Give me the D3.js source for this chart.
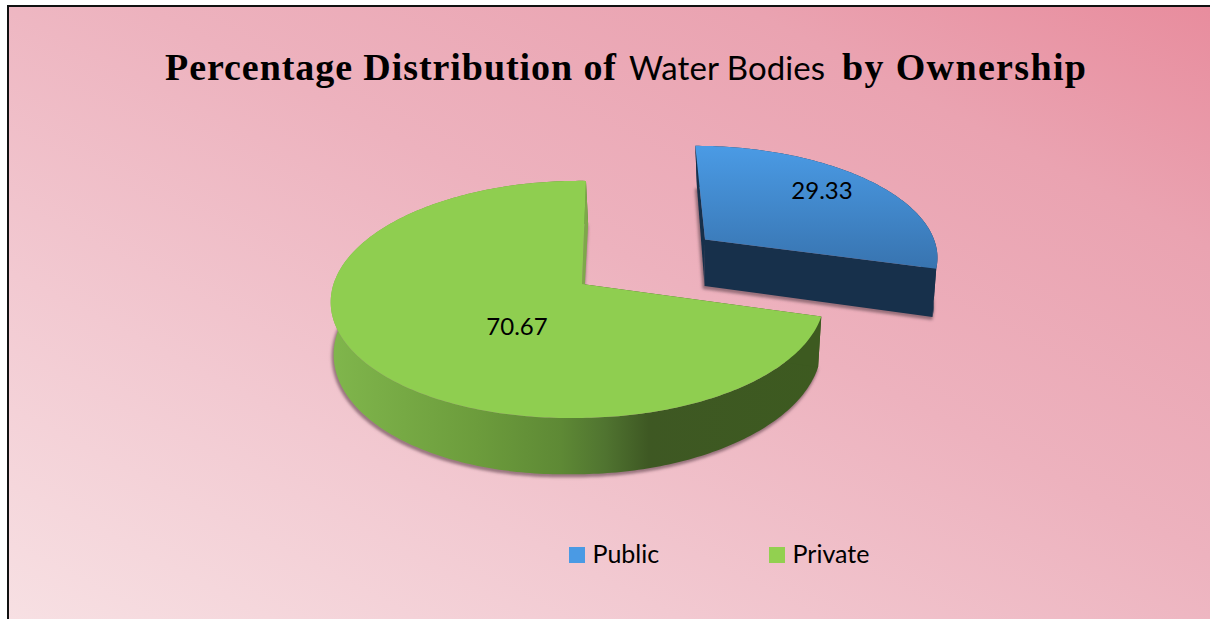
<!DOCTYPE html>
<html><head><meta charset="utf-8">
<script src="https://cdn.jsdelivr.net/npm/d3@7"></script>
<style>html,body{margin:0;padding:0;background:#fff;overflow:hidden}svg{display:block}</style>
</head><body><svg id="c" width="1210" height="619"></svg>
<script>
const categories = ["Public", "Private"];
const shares = [29.33, 70.67];
const titleParts = ["Percentage Distribution of", "Water Bodies", "by Ownership"];

// layout
const W = 1210, H = 619;
const explode = [0.665, 0];
const labelAt = [[822, 199], [517, 335]];
const cx = 582, cy = 284;
const A = 241, B = 116.5, C = -4.5, K = 0.13, M = -0.03, DEPTH = 49;

const svg = d3.select("#c");
const defs = svg.append("defs");
function lin(id, attrs, stops) {
  const g = defs.append("linearGradient").attr("id", id).attr("gradientUnits", "userSpaceOnUse");
  Object.entries(attrs).forEach(([k, v]) => g.attr(k, v));
  stops.forEach(([o, c]) => g.append("stop").attr("offset", o).attr("stop-color", c));
}
lin("bg", {x1: 358, y1: 799, x2: 862, y2: -179},
  [[0, "#f7e0e3"], [0.28, "#f2c9d1"], [0.55, "#edb2be"], [0.8, "#eaa3b1"], [1, "#e88c9d"]]);
lin("blueTop", {x1: 0, y1: 148, x2: 0, y2: 268}, [[0, "#4a9ae4"], [1, "#3874b0"]]);
lin("blueSide", {x1: 700, y1: 0, x2: 940, y2: 0}, [[0, "#17304b"], [1, "#183350"]]);
lin("greenSide", {x1: 331, y1: 0, x2: 820, y2: 0},
  [[0, "#80b64c"], [0.3, "#6c9c3c"], [0.47, "#5e8935"], [0.56, "#507430"], [0.65, "#3e5823"], [1, "#3d5a20"]]);
lin("legendBlue", {x1: 0, y1: 547, x2: 0, y2: 563}, [[0, "#4a9ae4"], [1, "#3874b0"]]);
const blur = defs.append("filter").attr("id", "soft").attr("x", "-10%").attr("y", "-10%").attr("width", "120%").attr("height", "120%");
blur.append("feGaussianBlur").attr("stdDeviation", 1.6);

// background + frame
svg.append("rect").attr("x", 8).attr("y", 6).attr("width", W - 8).attr("height", H - 6).attr("fill", "url(#bg)");
svg.append("path").attr("d", `M8,${H}V6H${W}`).attr("fill", "none").attr("stroke", "#111").attr("stroke-width", 2);

// projection: plan coordinates (u right, v towards viewer) to screen
function project(u, v, low) {
  const w = 1 - K * v - M * Math.min(u, 0);
  let X = cx + (A * u + C * v) / w, Y = cy + (B * v) / w;
  if (low) { X = X + (600 - X) * 0.012 - v * 2; Y += DEPTH / w; }
  return [X, Y];
}
const pie = d3.pie().sort(null).startAngle(0).endAngle(2 * Math.PI);
const arcs = pie(shares);
const line = d3.line();
function plan(d, i, a, r) {
  const mid = (d.startAngle + d.endAngle) / 2, e = explode[i];
  return [e * Math.sin(mid) + r * Math.sin(a), -e * Math.cos(mid) - r * Math.cos(a)];
}
function rim(d, i, a0, a1, low) {
  const n = Math.max(2, Math.ceil(Math.abs(a1 - a0) * 60));
  return d3.range(n + 1).map(t => {
    const p = plan(d, i, a0 + (a1 - a0) * t / n, 1);
    return project(p[0], p[1], low);
  });
}
function apex(d, i, low) { const p = plan(d, i, 0, 0); return project(p[0], p[1], low); }
function face(d, i, low) { return line([apex(d, i, low), ...rim(d, i, d.startAngle, d.endAngle, low)]) + "Z"; }
function rimWall(d, i, a0, a1) { return line([...rim(d, i, a0, a1, false), ...rim(d, i, a0, a1, true).reverse()]) + "Z"; }
function radialWall(d, i, a) {
  return line([apex(d, i, false), rim(d, i, a, a, false)[0], rim(d, i, a, a, true)[0], apex(d, i, true)]) + "Z";
}
const topFill = ["url(#blueTop)", "#8fce50"];
const sideFill = ["url(#blueSide)", "url(#greenSide)"];
const startWall = ["#17304b", "#3d5a20"];
const endWall = ["#17304b", "#7ea84a"];

// shadows
svg.append("g").selectAll("path").data(arcs).join("path")
  .attr("d", (d, i) => face(d, i, true))
  .attr("transform", "translate(-1,2)")
  .attr("fill", "#6d4f58").attr("fill-opacity", 0.62)
  .attr("stroke", "#6d4f58").attr("stroke-opacity", 0.62).attr("stroke-width", 2)
  .attr("filter", "url(#soft)");

arcs.forEach((d, i) => {
  const g = svg.append("g");
  g.append("path").attr("d", rimWall(d, i, d.startAngle, d.endAngle)).attr("fill", sideFill[i]);
  g.append("path").attr("d", radialWall(d, i, d.startAngle)).attr("fill", startWall[i]);
  g.append("path").attr("d", radialWall(d, i, d.endAngle)).attr("fill", endWall[i]);
  g.append("path").attr("d", face(d, i, false)).attr("fill", topFill[i]);
});

// data labels
svg.append("g").selectAll("text").data(shares).join("text")
  .attr("x", (d, i) => labelAt[i][0]).attr("y", (d, i) => labelAt[i][1])
  .attr("text-anchor", "middle").attr("font-family", "Lato").attr("font-size", 24)
  .attr("fill", "#000").text(d => d.toFixed(2));

// title
const titleLayout = [
  {x: 165, len: 451, font: "Liberation Serif", size: 38, weight: 700},
  {x: 629, len: 196, font: "Lato", size: 33, weight: 400},
  {x: 842, len: 244, font: "Liberation Serif", size: 38, weight: 700}
];
svg.append("g").selectAll("text").data(titleParts).join("text")
  .attr("x", (d, i) => titleLayout[i].x).attr("y", 80)
  .attr("textLength", (d, i) => titleLayout[i].len).attr("lengthAdjust", "spacing")
  .attr("font-family", (d, i) => titleLayout[i].font).attr("font-size", (d, i) => titleLayout[i].size)
  .attr("font-weight", (d, i) => titleLayout[i].weight).attr("fill", "#000").text(d => d);

// legend
const legendX = d3.scalePoint().domain(categories).range([569, 769]);
const legend = svg.append("g").selectAll("g").data(categories).join("g")
  .attr("transform", d => `translate(${legendX(d)},547)`);
legend.append("rect").attr("width", 16).attr("height", 16)
  .attr("fill", (d, i) => i === 0 ? "url(#legendBlue)" : "#92d050");
legend.append("text").attr("x", 23.5).attr("y", 16)
  .attr("font-family", "Lato").attr("font-size", 25).attr("fill", "#000").text(d => d);
</script></body></html>
